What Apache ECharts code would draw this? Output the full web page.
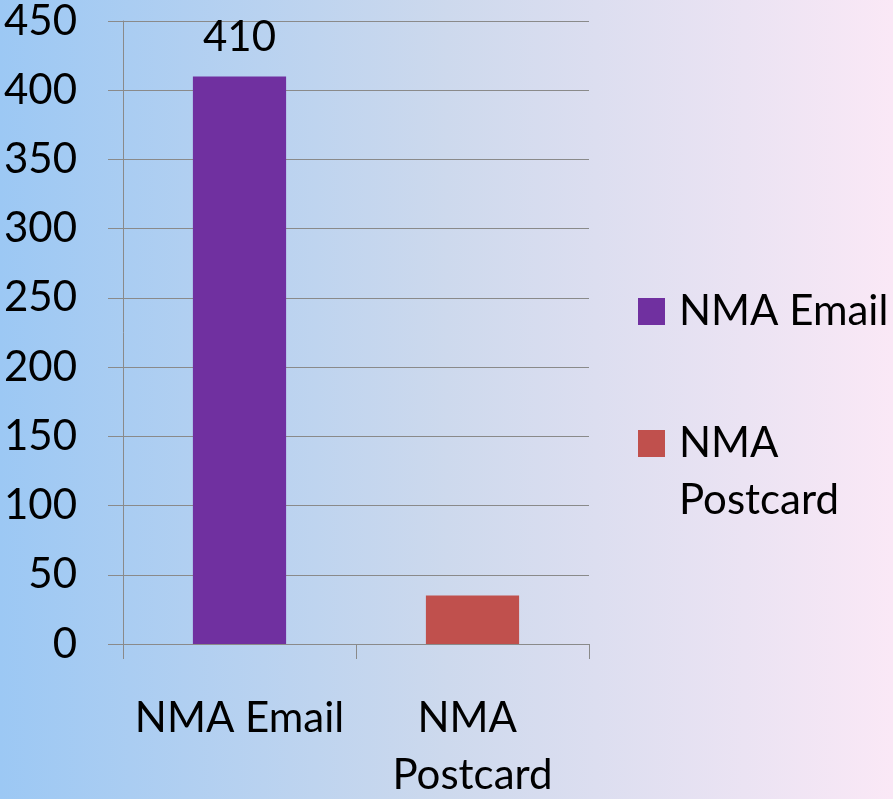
<!DOCTYPE html>
<html>
<head>
<meta charset="utf-8">
<title>NMA Email vs Postcard</title>
<script src="https://cdn.jsdelivr.net/npm/echarts@6/dist/echarts.min.js"></script>
<style>
  html, body { margin: 0; padding: 0; }
  #chart { width: 893px; height: 799px; }
</style>
</head>
<body>
<div id="chart"></div>
<script>
var categories = ['NMA Email', 'NMA Postcard']
var emailValues = [410, '-']
var postcardValues = ['-', 35]
var yTicks = [0, 50, 100, 150, 200, 250, 300, 350, 400, 450]

var gridColor = '#8a8a8a'
var font = 'Lato'

var chart = echarts.init(document.getElementById('chart'))

chart.setOption({
  backgroundColor: new echarts.graphic.LinearGradient(0, 0, 1, 0, [
    { offset: 0, color: '#9cc8f4' },
    { offset: 0.5, color: '#cdd9ed' },
    { offset: 1, color: '#fae8f6' }
  ]),
  textStyle: { fontFamily: font },
  grid: {
    left: 123,
    right: 304,
    top: 21,
    bottom: 155,
    containLabel: false,
    outerBoundsMode: 'none'
  },
  legend: [{
    data: [categories[0]],
    orient: 'vertical',
    left: 638,
    top: 283,
    padding: 0,
    icon: 'rect',
    itemWidth: 27,
    itemHeight: 27,
    textStyle: {
      fontFamily: font,
      fontSize: 42,
      lineHeight: 57,
      color: '#000',
      padding: [0, 0, 0, 9]
    }
  }, {
    // wrapped entry: an empty first line keeps "NMA" level with the square
    data: [categories[1]],
    orient: 'vertical',
    left: 638,
    top: 358,
    padding: 0,
    icon: 'rect',
    itemWidth: 27,
    itemHeight: 27,
    formatter: function(name) {
      return '\n' + name.replace(' ', '\n')
    },
    textStyle: {
      fontFamily: font,
      fontSize: 42,
      lineHeight: 57,
      color: '#000',
      padding: [0, 0, 0, 9]
    }
  }],
  xAxis: {
    type: 'category',
    data: categories,
    axisLine: { lineStyle: { color: gridColor, width: 1 } },
    axisTick: { show: true, length: 15, lineStyle: { color: gridColor } },
    axisLabel: {
      color: '#000',
      fontFamily: font,
      fontSize: 42,
      lineHeight: 57,
      margin: 46,
      width: 233,
      overflow: 'break',
      interval: 0
    }
  },
  yAxis: {
    type: 'value',
    min: yTicks[0],
    max: yTicks[yTicks.length - 1],
    interval: 50,
    axisLine: { show: true, lineStyle: { color: gridColor, width: 1 } },
    axisTick: { show: true, length: 15, lineStyle: { color: gridColor } },
    splitLine: { lineStyle: { color: gridColor, width: 1 } },
    axisLabel: {
      color: '#000',
      fontFamily: font,
      fontSize: 42,
      margin: 46
    }
  },
  series: [{
    name: categories[0],
    type: 'bar',
    data: emailValues,
    barWidth: '40%',
    barGap: '-100%',
    itemStyle: { color: '#7030a0' },
    label: {
      show: true,
      position: 'top',
      distance: 18,
      color: '#000',
      fontFamily: font,
      fontSize: 42
    }
  }, {
    name: categories[1],
    type: 'bar',
    data: postcardValues,
    barWidth: '40%',
    barGap: '-100%',
    itemStyle: { color: '#c0504d' }
  }]
})
</script>
</body>
</html>
